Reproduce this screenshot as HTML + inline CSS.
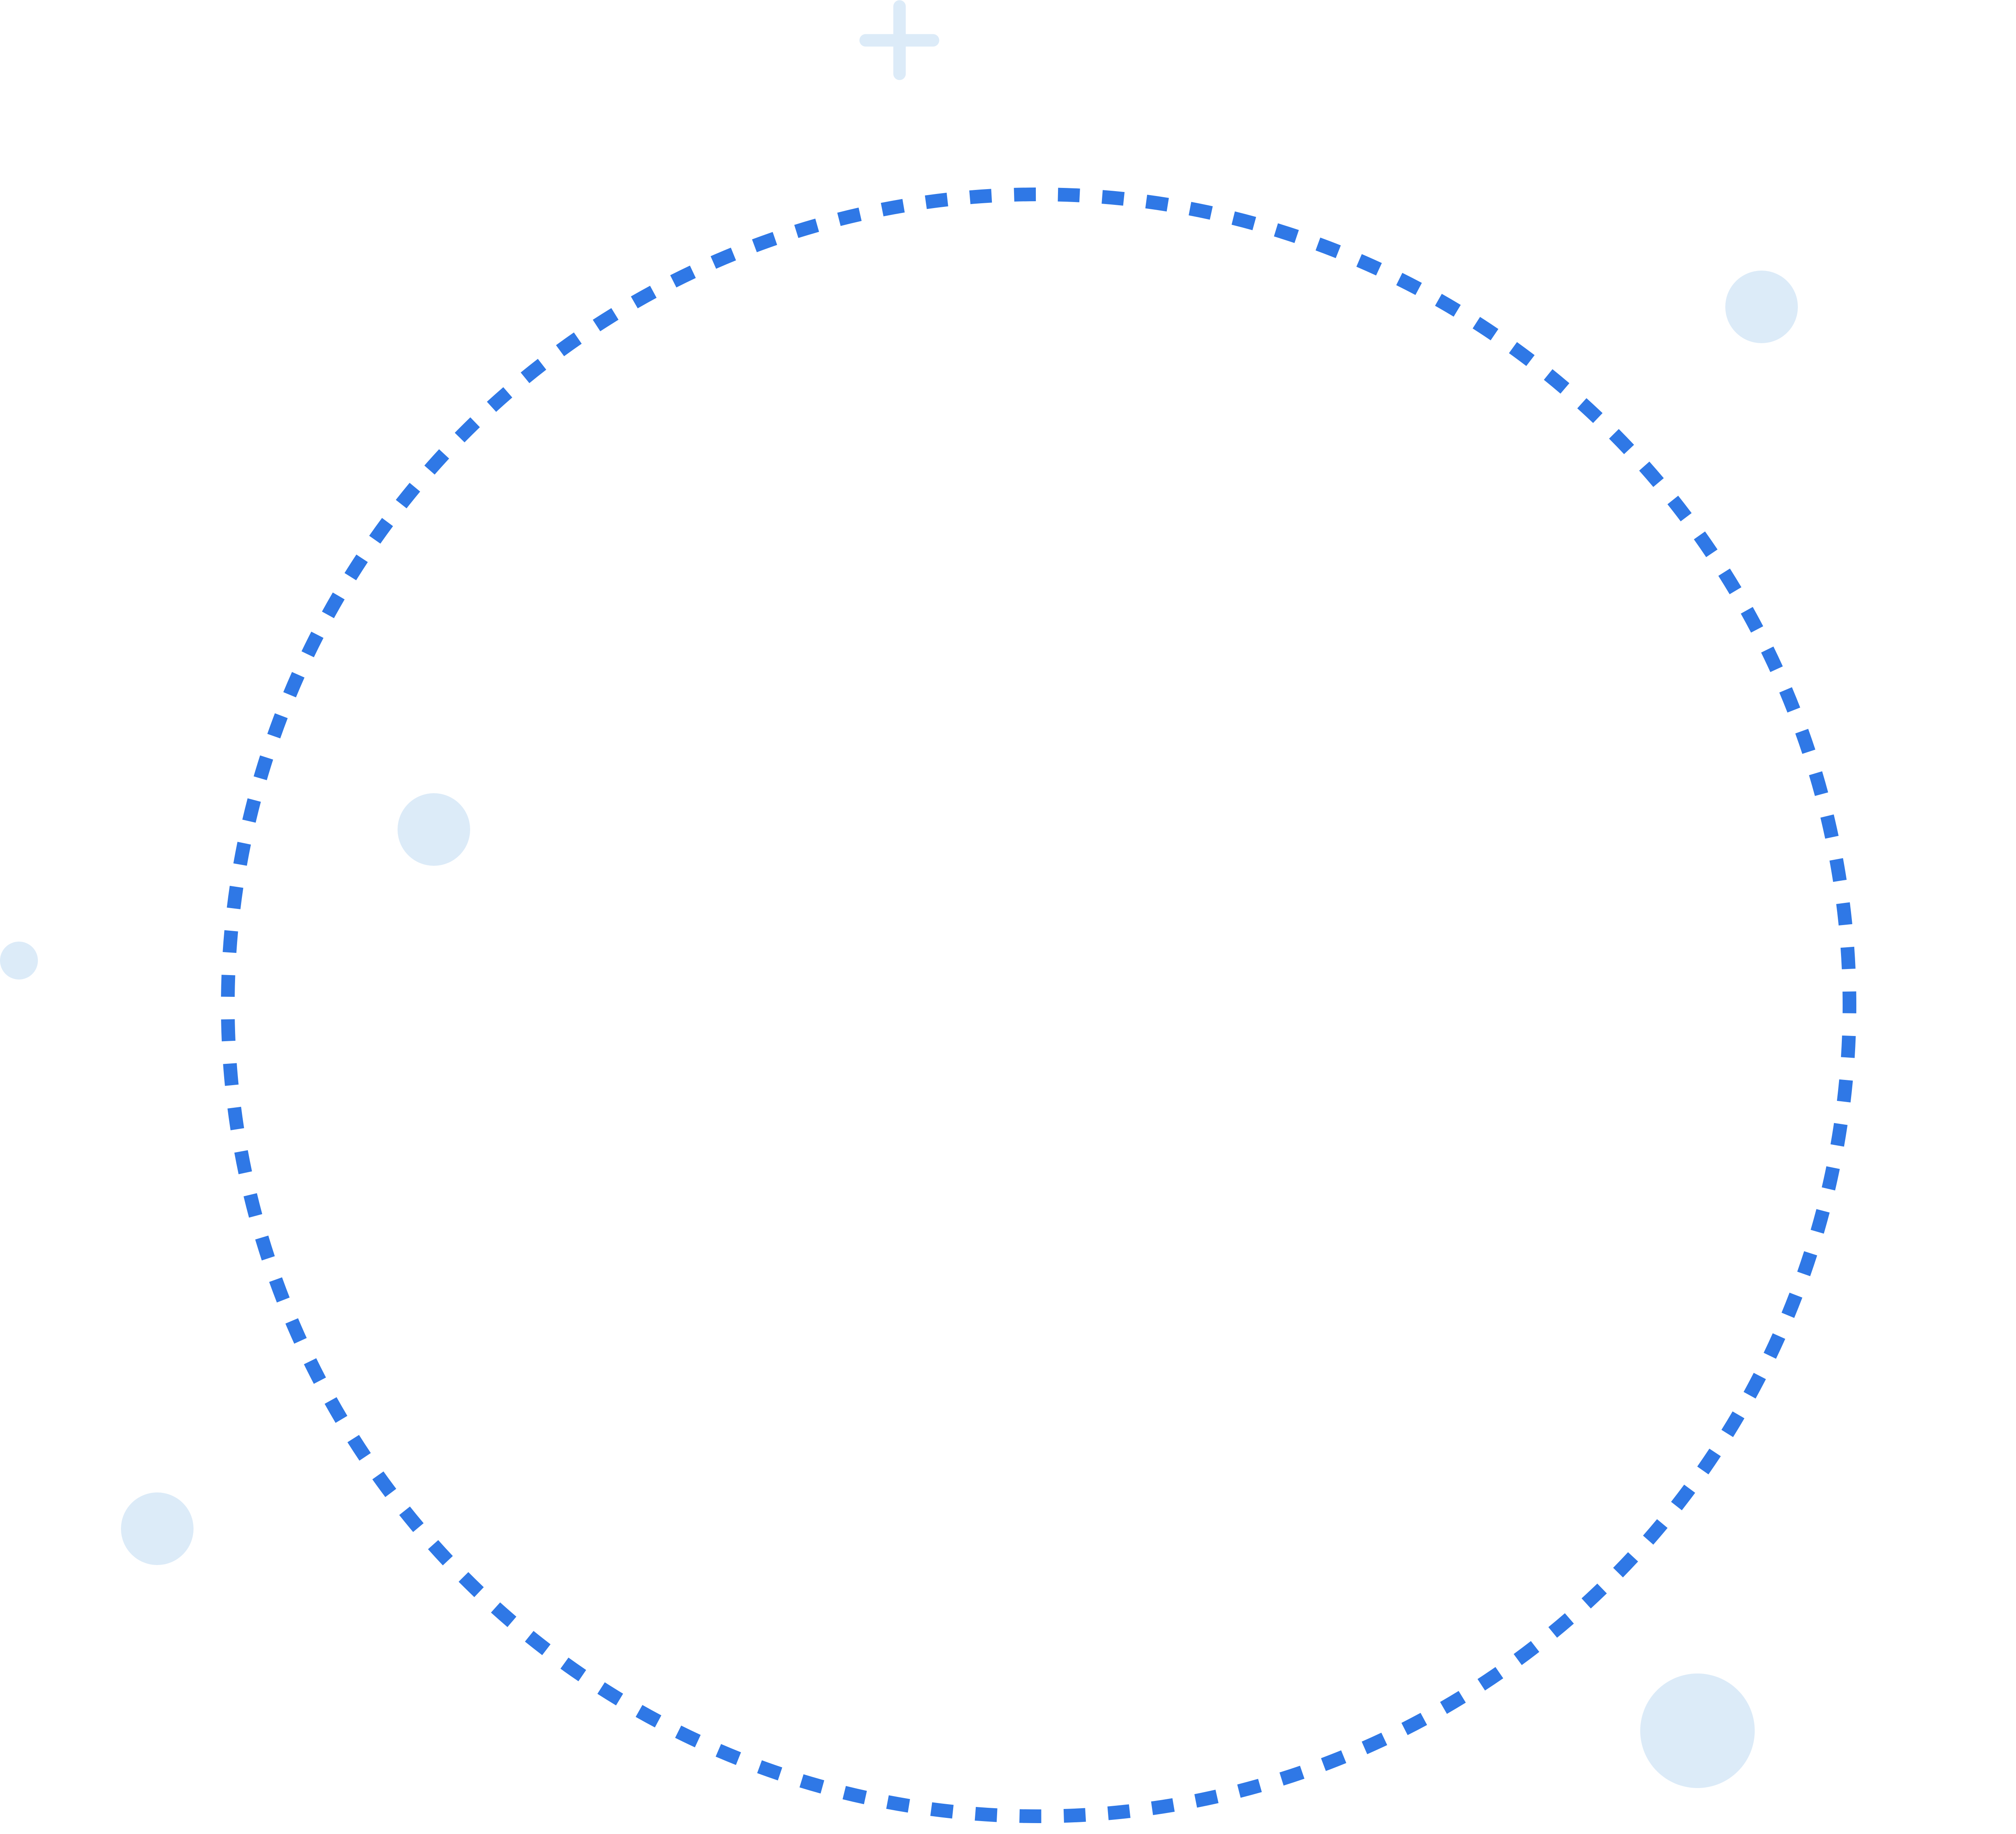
<!DOCTYPE html>
<html>
<head>
<meta charset="utf-8">
<style>
html,body{margin:0;padding:0;background:#fff;}
svg{display:block;}
</style>
</head>
<body>
<svg width="5029" height="4548" viewBox="0 0 5029 4548" xmlns="http://www.w3.org/2000/svg">
  <rect width="5029" height="4548" fill="#ffffff"/>
  <path d="M 2576 482 A 2011 2011 0 1 1 2576 4504 A 2011 2011 0 1 1 2576 482" fill="none" stroke="#2F78E6" stroke-width="34" stroke-dasharray="54 55.88" stroke-dashoffset="62"/>
  <g fill="#DCEBF8">
    <circle cx="4369" cy="761" r="90"/>
    <circle cx="1076" cy="2057" r="90"/>
    <circle cx="47" cy="2382" r="47"/>
    <circle cx="390" cy="3791" r="90"/>
    <circle cx="4210" cy="4292" r="142"/>
  </g>
  <g stroke="#DCEBF8" stroke-width="31" stroke-linecap="round">
    <line x1="2231" y1="16" x2="2231" y2="183"/>
    <line x1="2147" y1="100" x2="2314" y2="100"/>
  </g>
</svg>
</body>
</html>
